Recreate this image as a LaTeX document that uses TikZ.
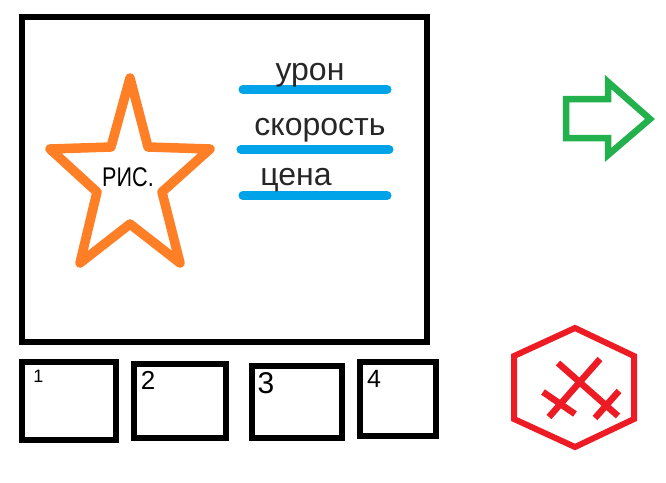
\documentclass[tikz,border=0pt]{standalone}
\usepackage{fontspec}
\setmainfont{Liberation Sans}
\definecolor{paintorange}{HTML}{FF7F27}
\definecolor{paintblue}{HTML}{00A2E8}
\definecolor{paintgreen}{HTML}{22B14C}
\definecolor{paintred}{HTML}{ED1C24}
\tikzset{
  frame/.style={draw=black,line width=6pt},
  statline/.style={draw=paintblue,line width=9pt,line cap=round},
  stattext/.style={inner sep=0pt,anchor=base,text=black!85,font=\fontsize{32}{32}\selectfont},
  digit/.style={inner sep=0pt,anchor=center},
  crossline/.style={draw=paintred,line width=6.5pt}
}
\begin{document}
\begin{tikzpicture}[x=1pt,y=-1pt]
    \useasboundingbox (0,0) rectangle (666,482);

    % big card
    \draw[frame] (22,17) rectangle (427,342);

    % star, from the top tip clockwise
    \draw[draw=paintorange,line width=9.5pt,line join=round]
      (130,78) -- (148,147) -- (210,149) -- (162,192) -- (180,263)
      -- (130,224) -- (80,263) -- (97,192) -- (50,149) -- (111,147) -- cycle;
    \node[inner sep=0pt,xscale=.8,font=\fontsize{27}{27}\selectfont] (pic) at (128,177) {РИС.};

    % stats
    \foreach \y/\a/\b in {89.5/243/387,149.5/241/389,195.5/243/387}
      \draw[statline] (\a,\y) -- (\b,\y);
    \node[stattext] (damage) at (310,80) {урон};
    \node[stattext] (speed) at (320,135) {скорость};
    \node[stattext] (price) at (296,185) {цена};

    % thumbnails
    \foreach \name/\l/\t/\r/\b in {a/22/362/116/440,b/134/364/226/438,c/252/366/342/438,d/360/362/436/436}
      \draw[frame] (\l,\t) rectangle (\r,\b) coordinate (slot\name);
    \node[digit,font=\fontsize{18}{18}\selectfont] (one) at (38.5,376.5) {1};
    \node[digit,font=\fontsize{26}{26}\selectfont] (two) at (148,380.5) {2};
    \node[digit,font=\fontsize{30}{30}\selectfont] (three) at (266,383) {3};
    \node[digit,font=\fontsize{25}{25}\selectfont] (four) at (374,379) {4};

    % next arrow
    \draw[draw=paintgreen,line width=6.5pt]
      (566,99) -- (608,99) -- (608,82) -- (650,119) -- (608,155)
      -- (608,138) -- (566,138) -- cycle;

    % close button
    \draw[draw=paintred,line width=6pt]
      (575,328) -- (634,356) -- (634,419) -- (575,447)
      -- (514,419) -- (514,356) -- cycle;
    \draw[crossline] (558,363) -- (618,416);
    \draw[crossline] (600,359) -- (549,417);
    \draw[crossline] (543,392) -- (575,414);
    \draw[crossline] (619,391) -- (595,418);
  \end{tikzpicture}
\end{document}
